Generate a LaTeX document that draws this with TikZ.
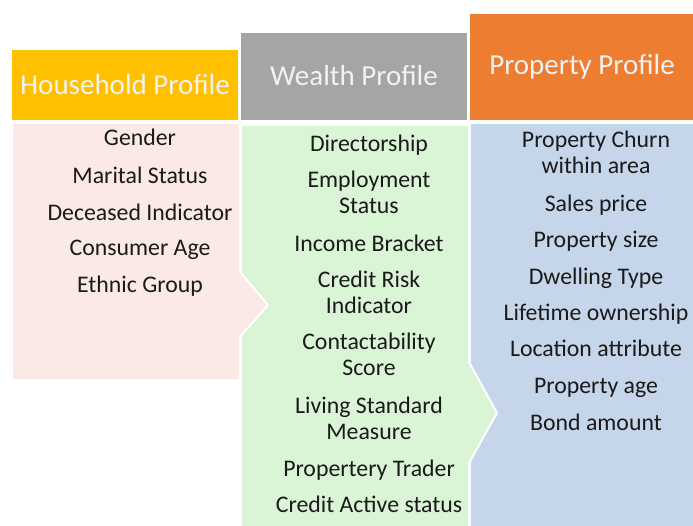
\documentclass[tikz,border=0pt]{standalone}
\usepackage{fontspec}
\setmainfont{Carlito}
\definecolor{hhhead}{HTML}{FFC000}
\definecolor{wlhead}{HTML}{A5A5A5}
\definecolor{prhead}{HTML}{ED7D31}
\definecolor{hhbody}{HTML}{FBE9E5}
\definecolor{wlbody}{HTML}{D9F5D5}
\definecolor{prbody}{HTML}{C5D5EA}
\definecolor{itemtext}{HTML}{1A1A1A}
\tikzset{
  head/.style={text=white!95!black, font=\fontsize{29}{34}\selectfont},
  item/.style={text=itemtext, align=center, font=\fontsize{23.8}{26}\selectfont, inner sep=0pt},
  oneline/.style={item, text depth=0pt}
}
\begin{document}
\begin{tikzpicture}[x=1pt,y=-1pt]
\def\hhshape{(12,123) -- (240,123) -- (240,272) -- (268,305) -- (240,337) -- (240,380) -- (12,380) -- cycle}
\def\wlshape{(241,125) -- (469,125) -- (469,362) -- (497,413) -- (469,463) -- (469,530) -- (241,530) -- cycle}
\def\prshape{(470,123) -- (697,123) -- (697,530) -- (470,530) -- cycle}
\useasboundingbox (0,0) rectangle (693,526);

% headers
\fill[hhhead] (12,50) rectangle (238,120);
\fill[wlhead] (241,33) rectangle (467,120);
\fill[prhead] (470,14) rectangle (697,120);
\node[head] (hhtitle) at (125,85) {Household Profile};
\node[head] (wltitle) at (354,76) {Wealth Profile};
\node[head] (prtitle) at (582,67) {Property Profile};

% bodies, each chevron lies over the next column
\filldraw[fill=prbody, draw=white, line width=2pt] \prshape;
\filldraw[fill=wlbody, draw=white, line width=2pt] \wlshape;
\filldraw[fill=hhbody, draw=white, line width=2pt] \hhshape;

\node[oneline] (gender) at (140,137) {Gender};
\node[oneline] (marital) at (140,175) {Marital Status};
\node[oneline] (deceased) at (140,212) {Deceased Indicator};
\node[oneline] (age) at (140,248) {Consumer Age};
\node[oneline] (ethnic) at (140,284) {Ethnic Group};

\node[oneline] (director) at (369,143) {Directorship};
\node[item] (employ) at (369,192) {Employment\\Status};
\node[oneline] (income) at (369,243) {Income Bracket};
\node[item] (risk) at (369,292) {Credit Risk\\Indicator};
\node[item] (contact) at (369,354.5) {Contactability\\Score};
\node[item] (living) at (369,418.5) {Living Standard\\Measure};
\node[oneline] (trader) at (369,468) {Propertery Trader};
\node[oneline] (active) at (369,504) {Credit Active status};

\node[item] (churn) at (596,152) {Property Churn\\within area};
\node[oneline] (sales) at (596,203) {Sales price};
\node[oneline] (size) at (596,239) {Property size};
\node[oneline] (dwelling) at (596,276) {Dwelling Type};
\node[oneline] (lifetime) at (596,312) {Lifetime ownership};
\node[oneline] (location) at (596,348) {Location attribute};
\node[oneline] (propage) at (596,386) {Property age};
\node[oneline] (bond) at (596,422) {Bond amount};
\end{tikzpicture}
\end{document}
